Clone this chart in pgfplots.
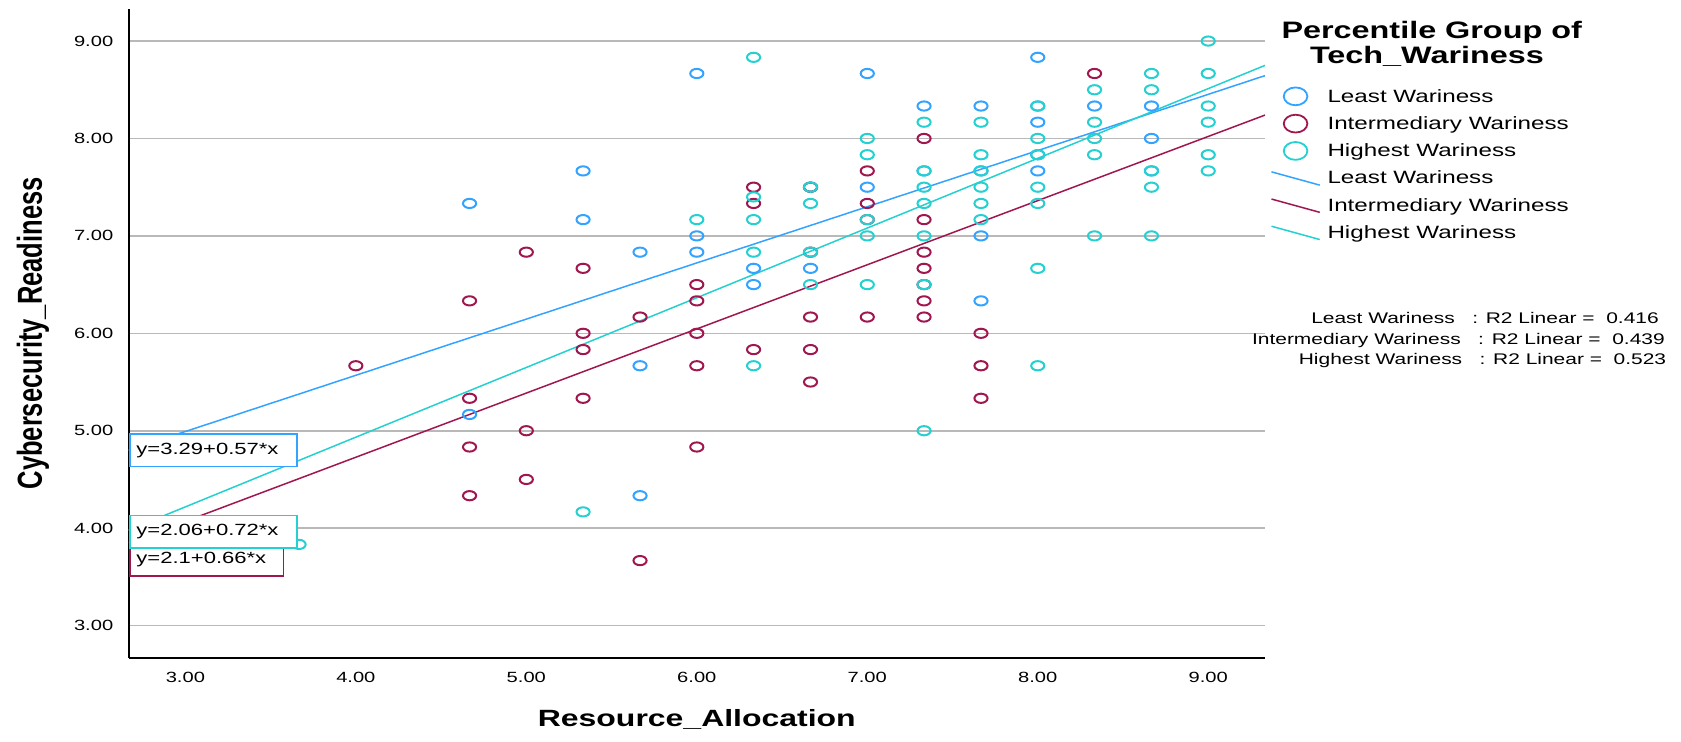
\documentclass[border=0pt]{standalone}
\usepackage{fontspec}
\setmainfont{Liberation Sans}[FakeStretch=1.36]
\newfontfamily\plainfont{Liberation Sans}
\usepackage{graphicx}
\usepackage{pgfplots}
\pgfplotsset{compat=1.18}

\definecolor{cLeast}{HTML}{33A3FF}
\definecolor{cInter}{HTML}{A0174F}
\definecolor{cHigh}{HTML}{24D0D0}
\definecolor{gridgray}{RGB}{185,185,185}

\begin{document}
\begin{tikzpicture}
\begin{axis}[
  at={(64.3pt,41.5pt)}, anchor=south west,
  scale only axis, width=568.2pt, height=324.7pt,
  xmin=2.667, xmax=9.333, ymin=2.667, ymax=9.333,
  xtick={3,4,5,6,7,8,9}, ytick={3,4,5,6,7,8,9},
  axis lines*=left,
  axis line style={line width=0.9pt, black},
  major tick length=0pt,
  ymajorgrids, major grid style={draw=gridgray, line width=0.8pt},
  /pgf/number format/fixed, /pgf/number format/fixed zerofill,
  /pgf/number format/precision=2, /pgf/number format/assume math mode=true,
  tick label style={font=\fontsize{7.4}{9}\selectfont},
  yticklabel style={anchor=east, inner sep=0pt, xshift=-7.5pt},
  xticklabel style={anchor=north, inner sep=0pt, yshift=-7pt},
  xlabel={Resource\_Allocation},
  every axis x label/.style={at={(axis description cs:0.5,-0.1047)}, anchor=base, font=\fontsize{11.75}{14}\selectfont\bfseries},
  ylabel={\scalebox{1}[1.36]{\plainfont\bfseries\fontsize{12.76}{15}\selectfont Cybersecurity\_Readiness}},
  every axis y label/.style={at={(axis description cs:-0.0841,0.5)}, rotate=90, anchor=center},
  legend style={at={(axis description cs:1.00502,0.880)}, anchor=north west, draw=none, fill=none,
    inner sep=0pt, outer sep=0pt, row sep=3.5pt, column sep=3.5pt,
    font=\fontsize{8.9}{10}\selectfont, cells={anchor=base west},
    nodes={inner sep=0pt, text height=7.7pt, text depth=2.4pt}},
]
\addplot[only marks, mark=o, color=cLeast, mark size=2.3pt, mark options={xscale=1.43, line width=1pt},
  legend image code/.code={\path[draw=none,fill=none] (0pt,-2.4pt) rectangle (24.15pt,7.7pt); \draw[cLeast, line width=0.9pt] (12.05pt,2.85pt) ellipse [x radius=5.9pt, y radius=4.45pt];}]
coordinates {(4.667,7.333)(4.667,5.167)(5.333,7.667)(5.333,7.167)(5.667,6.833)(5.667,5.667)(5.667,4.333)(6,8.667)(6,7)(6,6.833)(6.333,6.667)(6.333,6.5)(6.667,7.5)(6.667,6.667)(7,8.667)(7,7.5)(7.333,8.333)(7.333,7.667)(7.667,8.333)(7.667,7.667)(7.667,7)(7.667,6.333)(8,8.833)(8,8.333)(8,8.167)(8,7.833)(8,7.667)(8.333,8.333)(8.667,8.333)(8.667,8)(8.667,7.667)};
\addlegendentry{Least Wariness}
\addplot[only marks, mark=o, color=cInter, mark size=2.3pt, mark options={xscale=1.43, line width=1pt},
  legend image code/.code={\path[draw=none,fill=none] (0pt,-2.4pt) rectangle (24.15pt,7.7pt); \draw[cInter, line width=0.9pt] (12.05pt,2.85pt) ellipse [x radius=5.9pt, y radius=4.45pt];}]
coordinates {(4,5.667)(4.667,6.333)(4.667,5.333)(4.667,4.833)(4.667,4.333)(5,6.833)(5,5)(5,4.5)(5.333,6.667)(5.333,6)(5.333,5.833)(5.333,5.333)(5.667,6.167)(5.667,3.667)(6,6.5)(6,6.333)(6,6)(6,5.667)(6,4.833)(6.333,7.5)(6.333,7.333)(6.333,5.833)(6.667,7.5)(6.667,6.833)(6.667,6.167)(6.667,5.833)(6.667,5.5)(7,7.667)(7,7.333)(7,7.167)(7,6.167)(7.333,8)(7.333,7.167)(7.333,6.833)(7.333,6.667)(7.333,6.5)(7.333,6.333)(7.333,6.167)(7.667,6)(7.667,5.667)(7.667,5.333)(8.333,8.667)};
\addlegendentry{Intermediary Wariness}
\addplot[only marks, mark=o, color=cHigh, mark size=2.3pt, mark options={xscale=1.43, line width=1pt},
  legend image code/.code={\path[draw=none,fill=none] (0pt,-2.4pt) rectangle (24.15pt,7.7pt); \draw[cHigh, line width=0.9pt] (12.05pt,2.85pt) ellipse [x radius=5.9pt, y radius=4.45pt];}]
coordinates {(3.667,3.833)(5.333,4.167)(6,7.167)(6.333,8.833)(6.333,7.4)(6.333,7.167)(6.333,6.833)(6.333,5.667)(6.667,7.5)(6.667,7.333)(6.667,6.833)(6.667,6.5)(7,8)(7,7.833)(7,7.167)(7,7)(7,6.5)(7.333,8.167)(7.333,7.667)(7.333,7.5)(7.333,7.333)(7.333,7)(7.333,6.5)(7.333,5)(7.667,8.167)(7.667,7.833)(7.667,7.667)(7.667,7.5)(7.667,7.333)(7.667,7.167)(8,8.333)(8,8)(8,7.833)(8,7.5)(8,7.333)(8,6.667)(8,5.667)(8.333,8.5)(8.333,8.167)(8.333,8)(8.333,7.833)(8.333,7)(8.667,8.667)(8.667,8.5)(8.667,7.667)(8.667,7.5)(8.667,7)(9,9)(9,8.667)(9,8.333)(9,8.167)(9,7.833)(9,7.667)};
\addlegendentry{Highest Wariness}
\addplot[cLeast, line width=0.75pt,
  legend image code/.code={\path[draw=none,fill=none] (0pt,-2.4pt) rectangle (24.15pt,7.7pt); \draw[cLeast, line width=0.75pt] (0pt,6pt) -- (24.15pt,-0.65pt);}]
coordinates {(2.667,4.80) (9.333,8.645)};
\addlegendentry{Least Wariness}
\addplot[cInter, line width=0.75pt,
  legend image code/.code={\path[draw=none,fill=none] (0pt,-2.4pt) rectangle (24.15pt,7.7pt); \draw[cInter, line width=0.75pt] (0pt,6pt) -- (24.15pt,-0.65pt);}]
coordinates {(2.667,3.85) (9.333,8.24)};
\addlegendentry{Intermediary Wariness}
\addplot[cHigh, line width=0.75pt,
  legend image code/.code={\path[draw=none,fill=none] (0pt,-2.4pt) rectangle (24.15pt,7.7pt); \draw[cHigh, line width=0.75pt] (0pt,6pt) -- (24.15pt,-0.65pt);}]
coordinates {(2.667,3.98) (9.333,8.75)};
\addlegendentry{Highest Wariness}
\end{axis}

% equation boxes
\begin{scope}[font=\fontsize{8.1}{10}\selectfont]
\filldraw[fill=white, draw=cInter, line width=0.8pt] (65pt,82.5pt) rectangle (141.65pt,98.5pt);
\node[anchor=base west, inner sep=0pt] at (68pt,88.7pt) {y=2.1+0.66*x};
\filldraw[fill=white, draw=cHigh, line width=0.8pt] (65pt,96.6pt) rectangle (148.35pt,112.75pt);
\node[anchor=base west, inner sep=0pt] at (68pt,102.8pt) {y=2.06+0.72*x};
\filldraw[fill=white, draw=cLeast, line width=0.8pt] (65pt,137.3pt) rectangle (148.35pt,153.5pt);
\node[anchor=base west, inner sep=0pt] at (68pt,143.35pt) {y=3.29+0.57*x};
\end{scope}

% legend title
\node[anchor=base, inner sep=0pt, font=\fontsize{11.9}{13}\selectfont\bfseries] at (715.85pt,351.35pt) {Percentile Group of};
\node[anchor=base, inner sep=0pt, font=\fontsize{11.9}{13}\selectfont\bfseries] at (713.5pt,338.5pt) {Tech\_Wariness};

% R2 text
\begin{scope}[font=\fontsize{7.7}{9}\selectfont]
\node[anchor=base, inner sep=0pt] at (742.5pt,208.85pt) {Least Wariness\ \ \ : R2 Linear = \ 0.416};
\node[anchor=base, inner sep=0pt] at (729.2pt,198.5pt) {Intermediary Wariness\ \ \ : R2 Linear = \ 0.439};
\node[anchor=base, inner sep=0pt] at (741.25pt,188.5pt) {Highest Wariness\ \ \ : R2 Linear = \ 0.523};
\end{scope}

\pgfresetboundingbox
\path[use as bounding box] (0pt,0pt) rectangle (840.5pt,370.5pt);
\end{tikzpicture}
\end{document}
